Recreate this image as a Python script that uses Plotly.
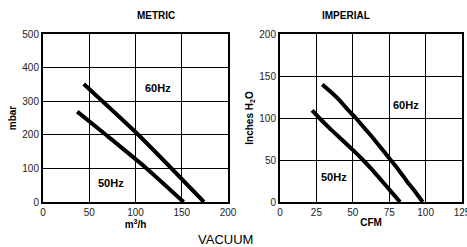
import plotly.graph_objects as go

# Metric data (m3/h vs mbar)
metric_60_x = [44, 103, 174]
metric_60_y = [351, 200, 0]
metric_50_x = [37, 68, 112, 152]
metric_50_y = [269, 200, 100, 0]

# Imperial data (CFM vs inches H2O)
imp_60_x = [29, 35, 41, 46, 52, 58, 64, 70, 76, 82, 87, 93, 98]
imp_60_y = [140, 131, 121, 111, 100, 88, 76, 63, 50, 37, 25, 12, 0]
imp_50_x = [22, 27, 34, 42, 50, 57, 64, 70, 76, 82.5]
imp_50_y = [109, 100, 88, 75, 62, 50, 37, 25, 13, 0]

metric_xticks = [0, 50, 100, 150, 200]
metric_yticks = [0, 100, 200, 300, 400, 500]
imp_xticks = [0, 25, 50, 75, 100, 125]
imp_yticks = [0, 50, 100, 150, 200]

fig = go.Figure()
line = dict(color="black", width=4)
for xs, ys, xa, ya in [(metric_60_x, metric_60_y, "x", "y"), (metric_50_x, metric_50_y, "x", "y"),
                       (imp_60_x, imp_60_y, "x2", "y2"), (imp_50_x, imp_50_y, "x2", "y2")]:
    fig.add_trace(go.Scatter(x=xs, y=ys, mode="lines", line=dict(line, shape="spline", smoothing=0.6),
                             xaxis=xa, yaxis=ya, hoverinfo="skip"))

tickfont = dict(family="Liberation Sans, Arial", size=10, color="#222")
titlefont = dict(family="Liberation Sans, Arial", size=10, color="black", weight="bold")

def ax(domain, rng, ticks, anchor):
    return dict(domain=domain, range=rng, tickmode="array", tickvals=ticks,
                showgrid=True, gridcolor="black", gridwidth=1,
                showline=True, linecolor="black", linewidth=2, mirror=True,
                zeroline=False, ticks="", tickfont=tickfont, anchor=anchor,
                automargin=False, fixedrange=True, ticklabeloverflow="allow")

yd = [1 - 202 / 247, 1 - 34 / 247]
fig.update_layout(
    template="none",
    width=467, height=247, margin=dict(l=0, r=0, t=0, b=0, autoexpand=False),
    paper_bgcolor="white", plot_bgcolor="white", showlegend=False,
    xaxis=dict(ax([43 / 467, 228 / 467], [0, 200], metric_xticks, "y"),
               title=dict(text="m<sup>3</sup>/h", font=titlefont, standoff=2)),
    yaxis=dict(ax(yd, [0, 500], metric_yticks, "x"),
               title=dict(text="mbar", font=titlefont, standoff=4)),
    xaxis2=dict(ax([280 / 467, 462 / 467], [0, 125], imp_xticks, "y2"),
                title=dict(text="CFM", font=titlefont, standoff=2)),
    yaxis2=dict(ax(yd, [0, 200], imp_yticks, "x2"),
                title=dict(text="Inches H<sub>2</sub>O", font=titlefont, standoff=4)),
)

lab = dict(family="Liberation Sans, Arial", size=11, color="black", weight="bold")
fig.add_annotation(text="60Hz", x=124, y=338, xref="x", yref="y", showarrow=False, font=lab)
fig.add_annotation(text="50Hz", x=73.6, y=57, xref="x", yref="y", showarrow=False, font=lab)
fig.add_annotation(text="60Hz", x=86.5, y=116, xref="x2", yref="y2", showarrow=False, font=lab)
fig.add_annotation(text="50Hz", x=37, y=30, xref="x2", yref="y2", showarrow=False, font=lab)

fig.add_annotation(text="METRIC", x=135 / 467, y=1 - 15 / 247, xref="paper", yref="paper",
                   yanchor="middle", showarrow=False, font=titlefont)
fig.add_annotation(text="IMPERIAL", x=372 / 467, y=1 - 15 / 247, xref="paper", yref="paper",
                   yanchor="middle", showarrow=False, font=titlefont)
fig.add_annotation(text="VACUUM", x=225 / 467, y=1 - 239 / 247, xref="paper", yref="paper",
                   yanchor="middle", showarrow=False,
                   font=dict(family="Liberation Sans, Arial", size=13, color="black"))

fig.write_html("out.html", config={"displayModeBar": False},
               post_script="document.body.style.margin='0';")
